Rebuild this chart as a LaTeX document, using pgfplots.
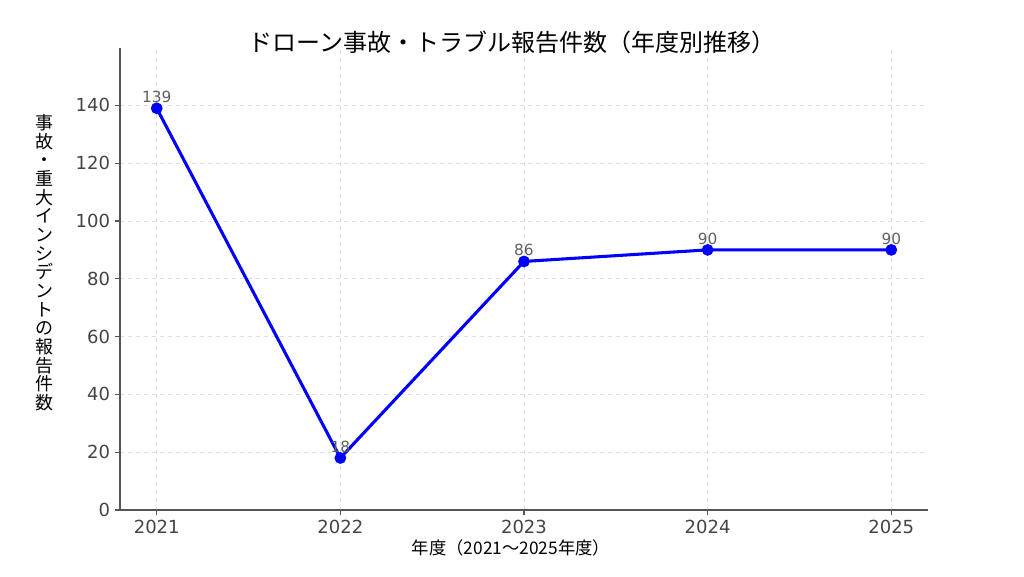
\documentclass[border=0pt]{standalone}
\usepackage{fontspec}
\setmainfont{DejaVu Sans}
\newfontfamily\jp{Noto Sans CJK JP}
\usepackage{pgfplots}
\pgfplotsset{compat=1.18}
\definecolor{spine}{HTML}{555555}
\definecolor{ticktext}{HTML}{444444}
\begin{document}
\begin{tikzpicture}
\path[use as bounding box] (0,0) rectangle (768pt,432pt);
\begin{axis}[
    at={(90pt,49.5pt)}, anchor=south west,
    scale only axis, width=606pt, height=346.5pt,
    xmin=2020.8, xmax=2025.2, ymin=0, ymax=159.85,
    axis lines*=left,
    axis line style={spine, line width=1.3pt},
    xtick={2021,2022,2023,2024,2025},
    ytick={0,20,40,60,80,100,120,140},
    tick align=outside,
    major tick length=4pt,
    tick style={spine, line width=0.9pt},
    grid=major,
    grid style={dashed, gray!25, line width=0.5pt},
    /pgf/number format/assume math mode=true,
    /pgf/number format/1000 sep={},
    tick label style={font=\fontsize{13.5}{14}\selectfont, text=ticktext},
    nodes near coords,
    every node near coord/.append style={font=\fontsize{11.5}{12}\selectfont, text=gray!75!black, anchor=south, inner sep=0pt, yshift=3pt},
]
\addplot[color=blue, line width=2.3pt, mark=*, mark size=3.2pt, mark options={fill=blue, draw=blue}]
coordinates {
    (2021, 139)
    (2022, 18)
    (2023, 86)
    (2024, 90)
    (2025, 90)
};
\end{axis}
\node[font=\jp\fontsize{18}{20}\selectfont] at (384pt,400.5pt) {ドローン事故・トラブル報告件数（年度別推移）};
\node[font=\jp\fontsize{13.5}{14}\selectfont, align=center] at (33.75pt,235pt)
  {事\\故\\・\\重\\大\\イ\\ン\\シ\\デ\\ン\\ト\\の\\報\\告\\件\\数};
\node[font=\jp\fontsize{13}{14}\selectfont] at (383.25pt,21pt) {年度（2021～2025年度）};
\end{tikzpicture}
\end{document}
